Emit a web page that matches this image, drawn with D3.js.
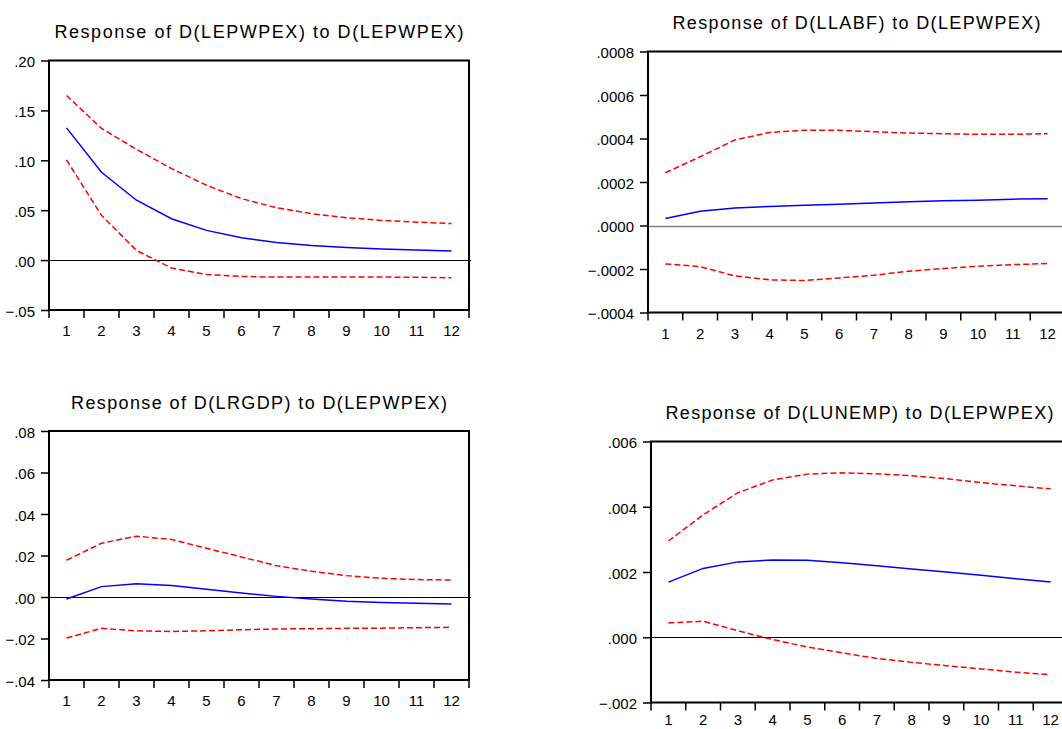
<!DOCTYPE html>
<html>
<head>
<meta charset="utf-8">
<script src="https://cdn.jsdelivr.net/npm/d3@7"></script>
<style>
  body { margin: 0; background: #fff; }
  svg { display: block; }
  text { font-family: "Liberation Sans", Arial, sans-serif; fill: #000; }
</style>
</head>
<body>
<div id="chart-area"></div>
<script>
// impulse responses
const periods = [1, 2, 3, 4, 5, 6, 7, 8, 9, 10, 11, 12];

const lepwpexResp  = [0.1325, 0.088, 0.060, 0.0415, 0.0298, 0.0224, 0.0177, 0.0147, 0.0127, 0.0112, 0.0101, 0.0092];
const lepwpexUpper = [0.165, 0.132, 0.111, 0.0917, 0.075, 0.0616, 0.0525, 0.0465, 0.0425, 0.0398, 0.038, 0.0366];
const lepwpexLower = [0.1004, 0.0448, 0.0097, -0.008, -0.0144, -0.0164, -0.017, -0.017, -0.017, -0.017, -0.0172, -0.0177];
const lepwpexTicks = [-0.05, 0, 0.05, 0.10, 0.15, 0.20];

const llabfResp  = [0.000032, 0.000066, 0.000081, 0.0000875, 0.0000936, 0.0000982, 0.000104, 0.000109, 0.0001136, 0.0001166, 0.0001212, 0.0001228];
const llabfUpper = [0.0002425, 0.000316, 0.000393, 0.000428, 0.0004375, 0.0004375, 0.000431, 0.000425, 0.000422, 0.000419, 0.000419, 0.000422];
const llabfLower = [-0.0001765, -0.000189, -0.000232, -0.00025, -0.000253, -0.000241, -0.000229, -0.00021, -0.000198, -0.000187, -0.00018, -0.000175];
const llabfTicks = [-0.0004, -0.0002, 0, 0.0002, 0.0004, 0.0006, 0.0008];

const lrgdpResp  = [-0.001, 0.005, 0.0064, 0.0055, 0.0037, 0.0019, 0.0003, -0.001, -0.0021, -0.0027, -0.003, -0.0034];
const lrgdpUpper = [0.0177, 0.0259, 0.0293, 0.0277, 0.0235, 0.0193, 0.0151, 0.0124, 0.0103, 0.009, 0.0084, 0.0082];
const lrgdpLower = [-0.0198, -0.0151, -0.0163, -0.0166, -0.0163, -0.0158, -0.0154, -0.0153, -0.0151, -0.015, -0.0148, -0.0146];
const lrgdpTicks = [-0.04, -0.02, 0, 0.02, 0.04, 0.06, 0.08];

const lunempResp  = [0.00169, 0.00211, 0.00231, 0.00237, 0.00236, 0.00228, 0.00219, 0.00209, 0.0020, 0.0019, 0.00179, 0.00169];
const lunempUpper = [0.00295, 0.00375, 0.00443, 0.00482, 0.0050, 0.00504, 0.00501, 0.00495, 0.00486, 0.00474, 0.00464, 0.00455];
const lunempLower = [0.00044, 0.00049, 0.0002, -0.00007, -0.0003, -0.00048, -0.00065, -0.00077, -0.00087, -0.00097, -0.00107, -0.00115];
const lunempTicks = [-0.002, 0, 0.002, 0.004, 0.006];

const titles = [
    'Response of D(LEPWPEX) to D(LEPWPEX)',
    'Response of D(LLABF) to D(LEPWPEX)',
    'Response of D(LRGDP) to D(LEPWPEX)',
    'Response of D(LUNEMP) to D(LEPWPEX)'
];

const panels = [
    { title: titles[0], resp: lepwpexResp, upper: lepwpexUpper, lower: lepwpexLower, ticks: lepwpexTicks, dec: 2,
      box: { x0: 49, x1: 469, y0: 60.5, y1: 310 }, titleW: 409, zeroColor: '#000' },
    { title: titles[1], resp: llabfResp, upper: llabfUpper, lower: llabfLower, ticks: llabfTicks, dec: 4,
      box: { x0: 648, x1: 1065, y0: 51.5, y1: 312.5 }, titleW: 368, zeroColor: '#808080' },
    { title: titles[2], resp: lrgdpResp, upper: lrgdpUpper, lower: lrgdpLower, ticks: lrgdpTicks, dec: 2,
      box: { x0: 49, x1: 469, y0: 431, y1: 680 }, titleW: 376, zeroColor: '#000' },
    { title: titles[3], resp: lunempResp, upper: lunempUpper, lower: lunempLower, ticks: lunempTicks, dec: 3,
      box: { x0: 651, x1: 1068, y0: 441.5, y1: 702.5 }, titleW: 388, zeroColor: '#000' }
];

const svg = d3.select('#chart-area')
    .append('svg')
    .attr('width', 1062)
    .attr('height', 729);

// EViews style labels: ".20", "-.05"
function fmtTick(dec) {
    const f = d3.format('.' + dec + 'f');
    return (d) => f(d).replace('0.', '.');
}

panels.forEach((p) => {
    const b = p.box;
    const g = svg.append('g');

    const x = d3.scaleBand()
        .domain(periods)
        .range([b.x0, b.x1]);

    const y = d3.scaleLinear()
        .domain([p.ticks[0], p.ticks[p.ticks.length - 1]])
        .range([b.y1, b.y0]);

    const cx = (d, i) => x(periods[i]) + x.bandwidth() / 2;

    // title
    g.append('text')
        .attr('x', (b.x0 + b.x1) / 2 - p.titleW / 2)
        .attr('y', b.y0 - 22.5)
        .attr('font-size', 18)
        .attr('textLength', p.titleW)
        .attr('lengthAdjust', 'spacing')
        .text(p.title);

    // zero line
    const zy = Math.round(y(0)) + 0.5;
    g.append('line')
        .attr('x1', b.x0)
        .attr('x2', b.x1 + 2)
        .attr('y1', zy)
        .attr('y2', zy)
        .attr('stroke', p.zeroColor)
        .attr('stroke-width', p.zeroColor === '#000' ? 1 : 1.5);

    // y ticks
    const yAxis = d3.axisLeft(y)
        .tickValues(p.ticks)
        .tickSize(8)
        .tickPadding(6)
        .tickFormat(fmtTick(p.dec));

    const ya = g.append('g')
        .attr('transform', 'translate(' + b.x0 + ',0)')
        .call(yAxis);
    ya.select('.domain').remove();
    ya.selectAll('line').attr('stroke', '#000').attr('stroke-width', 1.5);
    ya.selectAll('text')
        .attr('font-size', 15)
        .attr('dy', '0.42em');

    // x ticks at the band edges, labels at the band centres
    const edges = periods.map((d) => x(d)).concat([b.x1]);
    g.selectAll('.xtick')
        .data(edges)
        .enter()
        .append('line')
        .attr('class', 'xtick')
        .attr('x1', (d) => d)
        .attr('x2', (d) => d)
        .attr('y1', b.y1)
        .attr('y2', b.y1 + 8)
        .attr('stroke', '#000')
        .attr('stroke-width', 1.5);

    g.selectAll('.xlab')
        .data(periods)
        .enter()
        .append('text')
        .attr('class', 'xlab')
        .attr('x', (d) => x(d) + x.bandwidth() / 2)
        .attr('y', Math.min(b.y1 + 26, 725))
        .attr('text-anchor', 'middle')
        .attr('font-size', 15)
        .text((d) => d);

    const line = d3.line()
        .x(cx)
        .y((d) => y(d));

    [p.upper, p.lower].forEach((s) => {
        g.append('path')
            .datum(s)
            .attr('d', line)
            .attr('fill', 'none')
            .attr('stroke', '#ff0000')
            .attr('stroke-width', 1.5)
            .attr('stroke-dasharray', '6,3');
    });

    g.append('path')
        .datum(p.resp)
        .attr('d', line)
        .attr('fill', 'none')
        .attr('stroke', '#0000ff')
        .attr('stroke-width', 1.5);

    // frame
    g.append('rect')
        .attr('x', b.x0)
        .attr('y', b.y0)
        .attr('width', b.x1 - b.x0)
        .attr('height', b.y1 - b.y0)
        .attr('fill', 'none')
        .attr('stroke', '#000')
        .attr('stroke-width', 2);
});
</script>
</body>
</html>
